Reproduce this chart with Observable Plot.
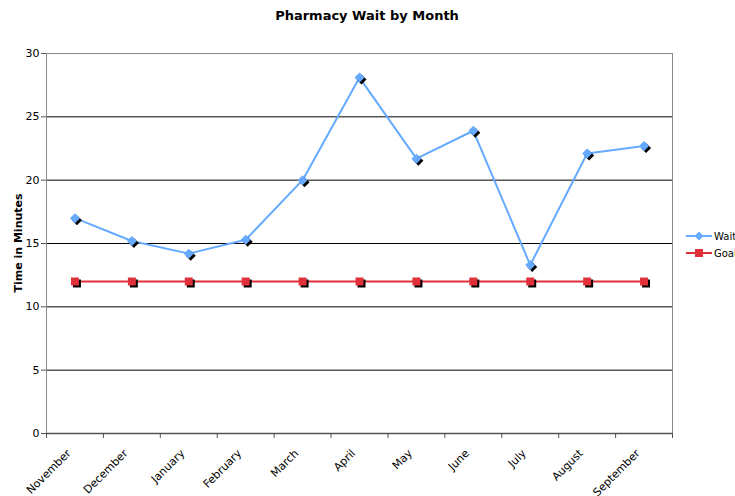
<!DOCTYPE html>
<html><head><meta charset="utf-8">
<script src="https://cdn.jsdelivr.net/npm/d3@7"></script>
<script src="https://cdn.jsdelivr.net/npm/@observablehq/plot@0.6"></script>
<style>body{margin:0;background:#fff;font-family:"DejaVu Sans",sans-serif;}</style>
</head><body><div id="chart"></div>
<script>
const months = ["November","December","January","February","March","April","May","June","July","August","September"];
const wait = [17.0, 15.2, 14.2, 15.3, 20.0, 28.1, 21.7, 23.9, 13.3, 22.1, 22.7];
const goal = [12, 12, 12, 12, 12, 12, 12, 12, 12, 12, 12];
const yTicks = [0, 5, 10, 15, 20, 25, 30];
const seriesNames = ["Wait", "Goal"];
const colors = ["#66aaff", "#e0303a"];

const waitData = months.map((m, i) => ({i, m, v: wait[i]}));
const goalData = months.map((m, i) => ({i, m, v: goal[i]}));
const xc = d => d.i + 0.5;

const plot = Plot.plot({
  width: 735, height: 496,
  marginLeft: 46, marginRight: 63, marginTop: 53, marginBottom: 63,
  style: {fontFamily: "DejaVu Sans, sans-serif", fontSize: "11px", color: "#000", background: "#fff"},
  x: {domain: [0, months.length], axis: null},
  y: {domain: [0, 30], axis: null},
  marks: [
    Plot.ruleY(yTicks.filter(t => t > 0 && t < 30), {stroke: "#000", strokeWidth: 1}),
    Plot.frame({stroke: "#888"}),
    Plot.ruleY([0], {stroke: "#555", strokeWidth: 1.5}),
    Plot.axisY({ticks: yTicks, tickSize: 5, tickPadding: 2, label: null, stroke: "#555", fontSize: 11}),
    Plot.axisX({ticks: d3.range(months.length + 1), tickSize: 5, tickFormat: () => "", label: null, stroke: "#555"}),
    Plot.text(months, {x: (d, i) => i + 0.5, y: 0, text: d => d, rotate: -45, textAnchor: "end", dx: -6, dy: 18, fontSize: 11}),
    // Goal
    Plot.line(goalData, {x: xc, y: "v", stroke: colors[1], strokeWidth: 2}),
    Plot.dot(goalData, {x: xc, y: "v", symbol: "square", r: 4.5, fill: "#000", dx: 2, dy: 2}),
    Plot.dot(goalData, {x: xc, y: "v", symbol: "square", r: 4.5, fill: colors[1]}),
    // Wait
    Plot.line(waitData, {x: xc, y: "v", stroke: colors[0], strokeWidth: 2}),
    Plot.dot(waitData, {x: xc, y: "v", symbol: "diamond2", r: 4.5, fill: "#000", dx: 2, dy: 2}),
    Plot.dot(waitData, {x: xc, y: "v", symbol: "diamond2", r: 4.5, fill: colors[0]})
  ]
});

const svg = d3.select(plot);
svg.append("text").attr("x", 367).attr("y", 20).attr("text-anchor", "middle")
  .attr("font-size", 13).attr("font-weight", "bold").attr("fill", "#000").text("Pharmacy Wait by Month");
svg.append("text").attr("transform", "translate(22,243) rotate(-90)").attr("text-anchor", "middle")
  .attr("font-size", 11).attr("font-weight", "bold").attr("fill", "#000").text("Time in Minutes");

const leg = svg.append("g");
seriesNames.forEach((name, k) => {
  const y = 236 + k * 17;
  leg.append("line").attr("x1", 686).attr("x2", 712).attr("y1", y).attr("y2", y)
    .attr("stroke", colors[k]).attr("stroke-width", 2);
  if (k === 0) {
    leg.append("path").attr("d", "M0,-4.5L4.5,0L0,4.5L-4.5,0Z").attr("transform", `translate(699,${y})`).attr("fill", colors[k]);
  } else {
    leg.append("rect").attr("x", 695).attr("y", y - 4).attr("width", 8).attr("height", 8).attr("fill", colors[k]);
  }
  leg.append("text").attr("x", 714).attr("y", y).attr("dy", "0.35em").attr("text-anchor", "start")
    .attr("font-size", 10).attr("fill", "#000").text(name);
});

document.getElementById("chart").appendChild(plot);
</script>
</body></html>
